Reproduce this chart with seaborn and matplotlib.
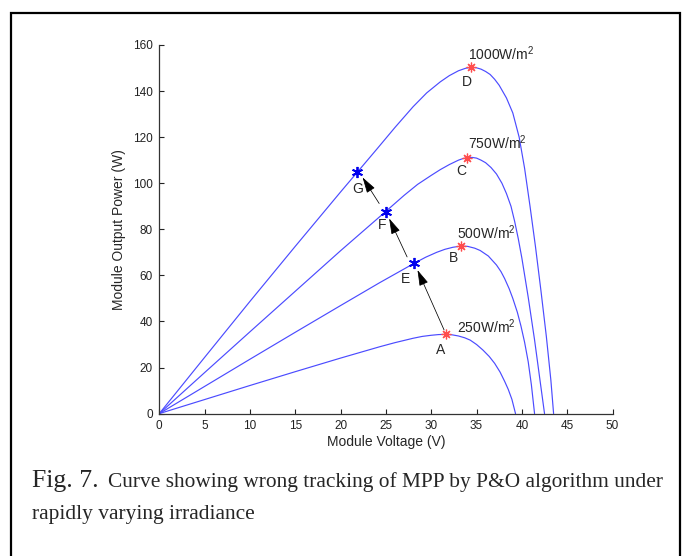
import matplotlib
matplotlib.use("Agg")
import matplotlib.pyplot as plt
from matplotlib.patches import Rectangle
import pandas as pd
import seaborn as sns

OUTPUT_FILE = "out.png"

# P-V curves (module voltage V, output power W)
v_1000 = [0, 5, 10, 15, 20, 24, 26, 28, 29.5, 31, 32, 33, 33.8, 34.4, 35.0, 35.5, 36.0, 36.5,
          37.0, 37.5, 38.3, 39.0, 39.7, 40.3, 40.9, 41.5, 42.1, 42.7, 43.2, 43.5]
p_1000 = [0, 24.4, 48.7, 72.6, 96.2, 114.8, 124.2, 133.2, 139.2, 144.0, 146.7, 148.8, 149.9, 150.3,
          150.1, 149.5, 148.5, 147.2, 145.1, 142.5, 137.0, 130.5, 120.0, 106.5, 90.0, 72.5, 53.5,
          33.5, 14.5, 0]

v_750 = [0, 5, 10, 15, 20, 25, 27, 28.5, 30, 31, 32, 33, 33.5, 34.0, 34.5, 35.0, 35.5, 36.0,
         36.6, 37.2, 37.8, 38.3, 38.8, 39.2, 39.6, 40.0, 40.7, 41.4, 42.0, 42.5]
p_750 = [0, 17.8, 35.5, 53.1, 70.7, 87.8, 94.7, 99.5, 103.4, 105.9, 108.1, 110.0, 110.7, 111.1,
         111.2, 110.9, 110.0, 108.9, 106.8, 104.0, 100.0, 95.5, 90.0, 83.5, 76.0, 67.5, 50.5,
         32.0, 14.5, 0]

v_500 = [0, 5, 10, 15, 20, 24.3, 26.2, 28.1, 29.4, 30.6, 31.5, 32.4, 33.26, 34.0, 34.8, 35.4,
         36.3, 37.2, 37.7, 38.1, 38.6, 39.0, 39.5, 39.9, 40.3, 40.7, 41.05, 41.4]
p_500 = [0, 11.8, 23.6, 35.3, 46.9, 56.8, 61.0, 65.2, 67.9, 70.0, 71.3, 72.2, 72.7, 72.6, 71.8,
         70.8, 68.4, 64.5, 61.6, 58.6, 54.2, 50.0, 44.0, 38.0, 31.0, 22.5, 12.5, 0]

v_250 = [0, 5, 10, 15, 20, 24.3, 26, 28, 29, 30, 30.8, 31.6, 32.3, 33, 33.7, 34.3, 35.0, 35.7,
         36.4, 37.0, 37.6, 38.1, 38.5, 38.9, 39.3]
p_250 = [0, 6.1, 12.2, 18.2, 24.1, 29.0, 30.8, 32.7, 33.5, 34.0, 34.3, 34.4, 34.2, 33.7, 32.9,
         31.9, 30.0, 27.6, 24.8, 21.8, 18.0, 14.0, 10.5, 6.2, 0]

irradiance_labels = ["1000W/m$^2$", "750W/m$^2$", "500W/m$^2$", "250W/m$^2$"]

# true MPPs (red) and the wrongly tracked points (blue)
mpp_names = ["D", "C", "B", "A"]
mpp_v = [34.42, 33.96, 33.26, 31.58]
mpp_p = [150.4, 111.1, 72.7, 34.4]

track_names = ["E", "F", "G"]
track_v = [28.12, 25.0, 21.83]
track_p = [65.2, 87.5, 104.9]

# arrows: tail (V, P) -> head (V, P)
arrow_tail_v = [31.42, 27.34, 24.26]
arrow_tail_p = [36.3, 68.0, 91.2]
arrow_head_v = [28.49, 25.36, 22.43]
arrow_head_p = [62.3, 84.7, 102.5]

x_ticks = [0, 5, 10, 15, 20, 25, 30, 35, 40, 45, 50]
y_ticks = [0, 20, 40, 60, 80, 100, 120, 140, 160]

caption_head = "Fig. 7."
caption_line1 = "Curve showing wrong tracking of MPP by P&O algorithm under"
caption_line2 = "rapidly varying irradiance"


def make_plot():
    sns.set_style("ticks")
    plt.rcParams["font.family"] = ["Liberation Sans", "DejaVu Sans"]
    plt.rcParams["mathtext.default"] = "regular"

    frames = []
    for name, v, p in zip(irradiance_labels,
                          [v_1000, v_750, v_500, v_250],
                          [p_1000, p_750, p_500, p_250]):
        frames.append(pd.DataFrame({"V": v, "P": p, "G": name}))
    df = pd.concat(frames, ignore_index=True)

    fig = plt.figure(figsize=(6.83, 5.56), dpi=100)
    ax = fig.add_axes([0.2332, 0.2561, 0.6636, 0.663])

    line_color = "#4b4bff"
    sns.lineplot(data=df, x="V", y="P", hue="G", palette=[line_color] * 4,
                 sort=False, estimator=None, legend=False, lw=0.85, ax=ax)

    # markers
    ax.plot(mpp_v, mpp_p, ls="none", marker=(8, 2, 0), ms=7, mew=0.9,
            color="#ff4d4d", zorder=5)
    ax.plot(track_v, track_p, ls="none", marker=(6, 2, 0), ms=8, mew=1.3,
            color="#0000ee", zorder=5)

    for i in range(len(arrow_tail_v)):
        ax.annotate("", xy=(arrow_head_v[i], arrow_head_p[i]),
                    xytext=(arrow_tail_v[i], arrow_tail_p[i]),
                    arrowprops=dict(arrowstyle="-|>,head_length=0.75,head_width=0.22",
                                    color="black", lw=0.55, mutation_scale=13,
                                    shrinkA=0, shrinkB=0))

    fs = 10
    # irradiance labels
    label_v = [34.1, 34.03, 32.79, 32.79]
    label_p = [153.3, 115.0, 76.0, 34.8]
    for t, lv, lp in zip(irradiance_labels, label_v, label_p):
        ax.text(lv, lp, t, fontsize=fs, ha="left", va="baseline")

    # point letters
    letter_v = [33.96, 33.34, 32.49, 31.06, 27.2, 24.59, 21.94]
    letter_p = [143.8, 105.3, 67.6, 27.6, 58.4, 81.8, 97.7]
    for t, lv, lp in zip(mpp_names + track_names, letter_v, letter_p):
        ax.text(lv, lp, t, fontsize=fs, ha="center", va="center")

    ax.set_xlim(0, 50)
    ax.set_ylim(0, 160)
    ax.set_xticks(x_ticks)
    ax.set_yticks(y_ticks)
    ax.tick_params(direction="in", length=3.5, width=0.8, labelsize=8.5,
                   pad=4.5, colors="#222222")
    ax.set_xlabel("Module Voltage (V)", fontsize=10, labelpad=2.5)
    ax.set_ylabel("Module Output Power (W)", fontsize=10, labelpad=5)
    sns.despine(ax=ax)
    for s in ["left", "bottom"]:
        ax.spines[s].set_linewidth(0.9)
        ax.spines[s].set_color("#333333")

    # frame around figure + caption
    fig.add_artist(Rectangle((11 / 683, -0.1), (680 - 11) / 683, 1.0766,
                             transform=fig.transFigure, fill=False,
                             lw=1.6, ec="black"))
    serif = ["Liberation Serif", "DejaVu Serif"]
    fig.text(32 / 683, 1 - 487 / 556, caption_head, fontsize=18.5,
             family=serif, va="baseline")
    fig.text(108 / 683, 1 - 487 / 556, caption_line1, fontsize=15.4,
             family=serif, va="baseline")
    fig.text(32 / 683, 1 - 519 / 556, caption_line2, fontsize=15.4,
             family=serif, va="baseline")

    fig.savefig(OUTPUT_FILE, dpi=100)
    print("saved", OUTPUT_FILE)


if __name__ == "__main__":
    make_plot()
